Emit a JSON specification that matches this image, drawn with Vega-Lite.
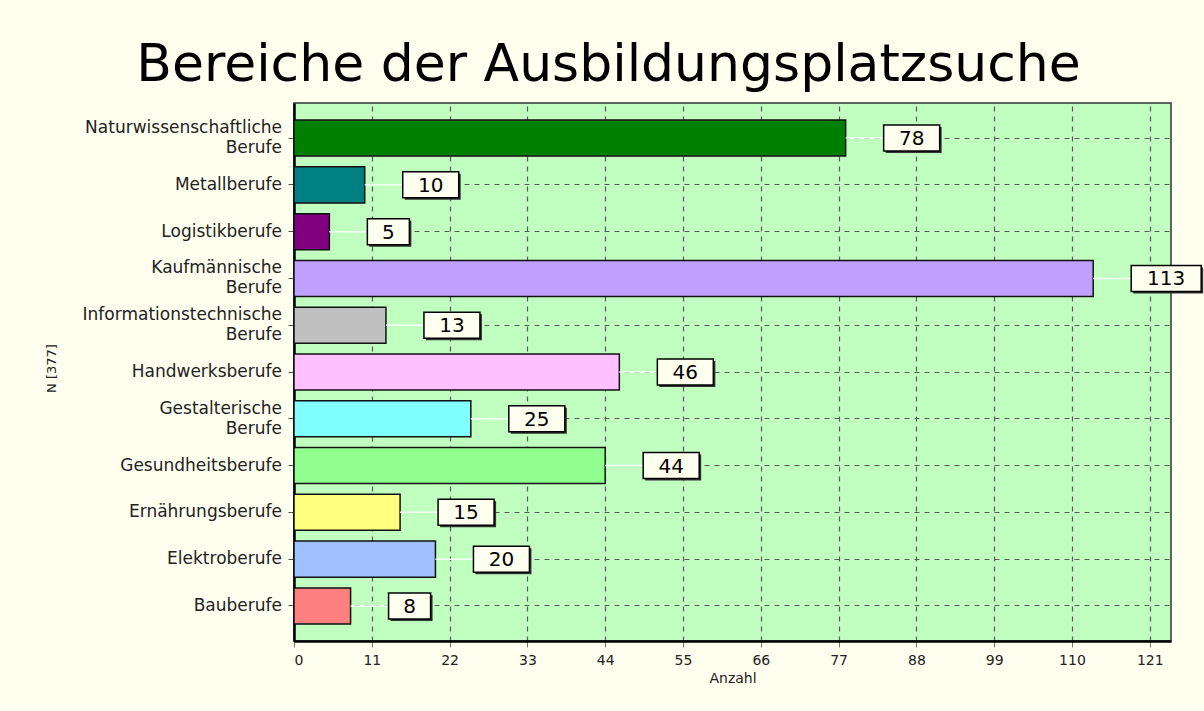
{
  "$schema": "https://vega.github.io/schema/vega-lite/v6.json",
  "width": 877,
  "height": 538,
  "autosize": {"type": "none"},
  "padding": {"left": 294, "top": 103, "right": 33, "bottom": 70},
  "background": "#FFFFF0",
  "title": {
    "text": "Bereiche der Ausbildungsplatzsuche",
    "font": "DejaVu Sans",
    "fontSize": 52,
    "fontWeight": "normal",
    "color": "#000000",
    "anchor": "middle",
    "dx": -124,
    "dy": 51,
    "baseline": "alphabetic",
    "offset": 21
  },
  "data": {
    "values": [
      {"beruf": "Naturwissenschaftliche Berufe", "anzahl": 78},
      {"beruf": "Metallberufe", "anzahl": 10},
      {"beruf": "Logistikberufe", "anzahl": 5},
      {"beruf": "Kaufmännische Berufe", "anzahl": 113},
      {"beruf": "Informationstechnische Berufe", "anzahl": 13},
      {"beruf": "Handwerksberufe", "anzahl": 46},
      {"beruf": "Gestalterische Berufe", "anzahl": 25},
      {"beruf": "Gesundheitsberufe", "anzahl": 44},
      {"beruf": "Ernährungsberufe", "anzahl": 15},
      {"beruf": "Elektroberufe", "anzahl": 20},
      {"beruf": "Bauberufe", "anzahl": 8}
    ]
  },
  "encoding": {
    "y": {
      "field": "beruf",
      "type": "nominal",
      "sort": null,
      "scale": {"paddingInner": 0.23, "paddingOuter": 0.365},
      "axis": {
        "title": "N [377]",
        "titleFont": "DejaVu Sans",
        "titleFontSize": 13,
        "titleFontWeight": "normal",
        "titleColor": "#222222",
        "titleX": -236,
        "titleY": 265,
        "titleAngle": -90,
        "titleAlign": "center",
        "titleBaseline": "bottom",
        "labels": false,
        "domainColor": "#000000",
        "domainWidth": 2.5,
        "tickColor": "#555555",
        "tickSize": 6,
        "bandPosition": 0.5,
        "grid": true,
        "gridColor": "#5a5a5a",
        "gridDash": [5, 5],
        "gridWidth": 1.2
      }
    },
    "x": {
      "field": "anzahl",
      "type": "quantitative",
      "scale": {"domain": [0, 124], "nice": false},
      "axis": {
        "title": "Anzahl",
        "titleFont": "DejaVu Sans",
        "titleFontSize": 14,
        "titleFontWeight": "normal",
        "titleColor": "#222222",
        "titlePadding": 4,
        "values": [0, 11, 22, 33, 44, 55, 66, 77, 88, 99, 110, 121],
        "labelFont": "DejaVu Sans",
        "labelFontSize": 14,
        "labelColor": "#222222",
        "labelPadding": 6,
        "domainColor": "#000000",
        "domainWidth": 2.5,
        "tickColor": "#777777",
        "tickSize": 6,
        "grid": true,
        "gridColor": "#5a5a5a",
        "gridDash": [5, 5],
        "gridWidth": 1.2
      }
    }
  },
  "layer": [
    {
      "mark": {"type": "bar", "stroke": "#111111", "strokeWidth": 1.5},
      "encoding": {
        "color": {
          "field": "beruf",
          "type": "nominal",
          "legend": null,
          "scale": {
            "domain": ["Naturwissenschaftliche Berufe", "Metallberufe", "Logistikberufe", "Kaufmännische Berufe", "Informationstechnische Berufe", "Handwerksberufe", "Gestalterische Berufe", "Gesundheitsberufe", "Ernährungsberufe", "Elektroberufe", "Bauberufe"],
            "range": ["#008000", "#008080", "#800080", "#BFA0FF", "#C0C0C0", "#FFC0FF", "#80FFFF", "#90FF90", "#FFFF80", "#A0C0FF", "#FF8080"]
          }
        }
      }
    },
    {
      "mark": {"type": "rule", "color": "#F4FFF4", "strokeWidth": 1.5, "x2Offset": 38},
      "encoding": {"x2": {"field": "anzahl"}}
    },
    {
      "transform": [
        {"filter": "indexof(datum.beruf, ' ') < 0"}
      ],
      "mark": {"type": "text", "font": "DejaVu Sans", "fontSize": 17, "color": "#222222", "align": "right", "baseline": "middle", "xOffset": -12},
      "encoding": {"x": {"datum": 0}, "text": {"field": "beruf"}}
    },
    {
      "transform": [
        {"filter": "indexof(datum.beruf, ' ') > 0"},
        {"calculate": "split(datum.beruf, ' ')", "as": "zeilen"}
      ],
      "mark": {"type": "text", "font": "DejaVu Sans", "fontSize": 17, "color": "#222222", "align": "right", "baseline": "middle", "xOffset": -12, "dy": -10, "lineHeight": 20},
      "encoding": {"x": {"datum": 0}, "text": {"field": "zeilen"}}
    },
    {
      "transform": [{"filter": "datum.anzahl < 10"}],
      "layer": [
        {"mark": {"type": "bar", "color": "#333333", "height": 26, "xOffset": 40, "x2Offset": 82, "yOffset": 2}, "encoding": {"x2": {"field": "anzahl"}}},
        {"mark": {"type": "bar", "fill": "#FFFFF0", "stroke": "#000000", "strokeWidth": 1.5, "height": 26, "xOffset": 38, "x2Offset": 80}, "encoding": {"x2": {"field": "anzahl"}}},
        {"mark": {"type": "text", "font": "DejaVu Sans", "fontSize": 20, "color": "#000000", "align": "center", "baseline": "middle", "xOffset": 59, "yOffset": 1}, "encoding": {"text": {"field": "anzahl"}}}
      ]
    },
    {
      "transform": [{"filter": "datum.anzahl >= 10 && datum.anzahl < 100"}],
      "layer": [
        {"mark": {"type": "bar", "color": "#333333", "height": 26, "xOffset": 40, "x2Offset": 96, "yOffset": 2}, "encoding": {"x2": {"field": "anzahl"}}},
        {"mark": {"type": "bar", "fill": "#FFFFF0", "stroke": "#000000", "strokeWidth": 1.5, "height": 26, "xOffset": 38, "x2Offset": 94}, "encoding": {"x2": {"field": "anzahl"}}},
        {"mark": {"type": "text", "font": "DejaVu Sans", "fontSize": 20, "color": "#000000", "align": "center", "baseline": "middle", "xOffset": 66, "yOffset": 1}, "encoding": {"text": {"field": "anzahl"}}}
      ]
    },
    {
      "transform": [{"filter": "datum.anzahl >= 100"}],
      "layer": [
        {"mark": {"type": "bar", "color": "#333333", "height": 26, "xOffset": 40, "x2Offset": 110, "yOffset": 2}, "encoding": {"x2": {"field": "anzahl"}}},
        {"mark": {"type": "bar", "fill": "#FFFFF0", "stroke": "#000000", "strokeWidth": 1.5, "height": 26, "xOffset": 38, "x2Offset": 108}, "encoding": {"x2": {"field": "anzahl"}}},
        {"mark": {"type": "text", "font": "DejaVu Sans", "fontSize": 20, "color": "#000000", "align": "center", "baseline": "middle", "xOffset": 73, "yOffset": 1}, "encoding": {"text": {"field": "anzahl"}}}
      ]
    }
  ],
  "config": {
    "view": {"fill": "#C0FFC0", "stroke": "#333333", "strokeWidth": 1.5}
  }
}
